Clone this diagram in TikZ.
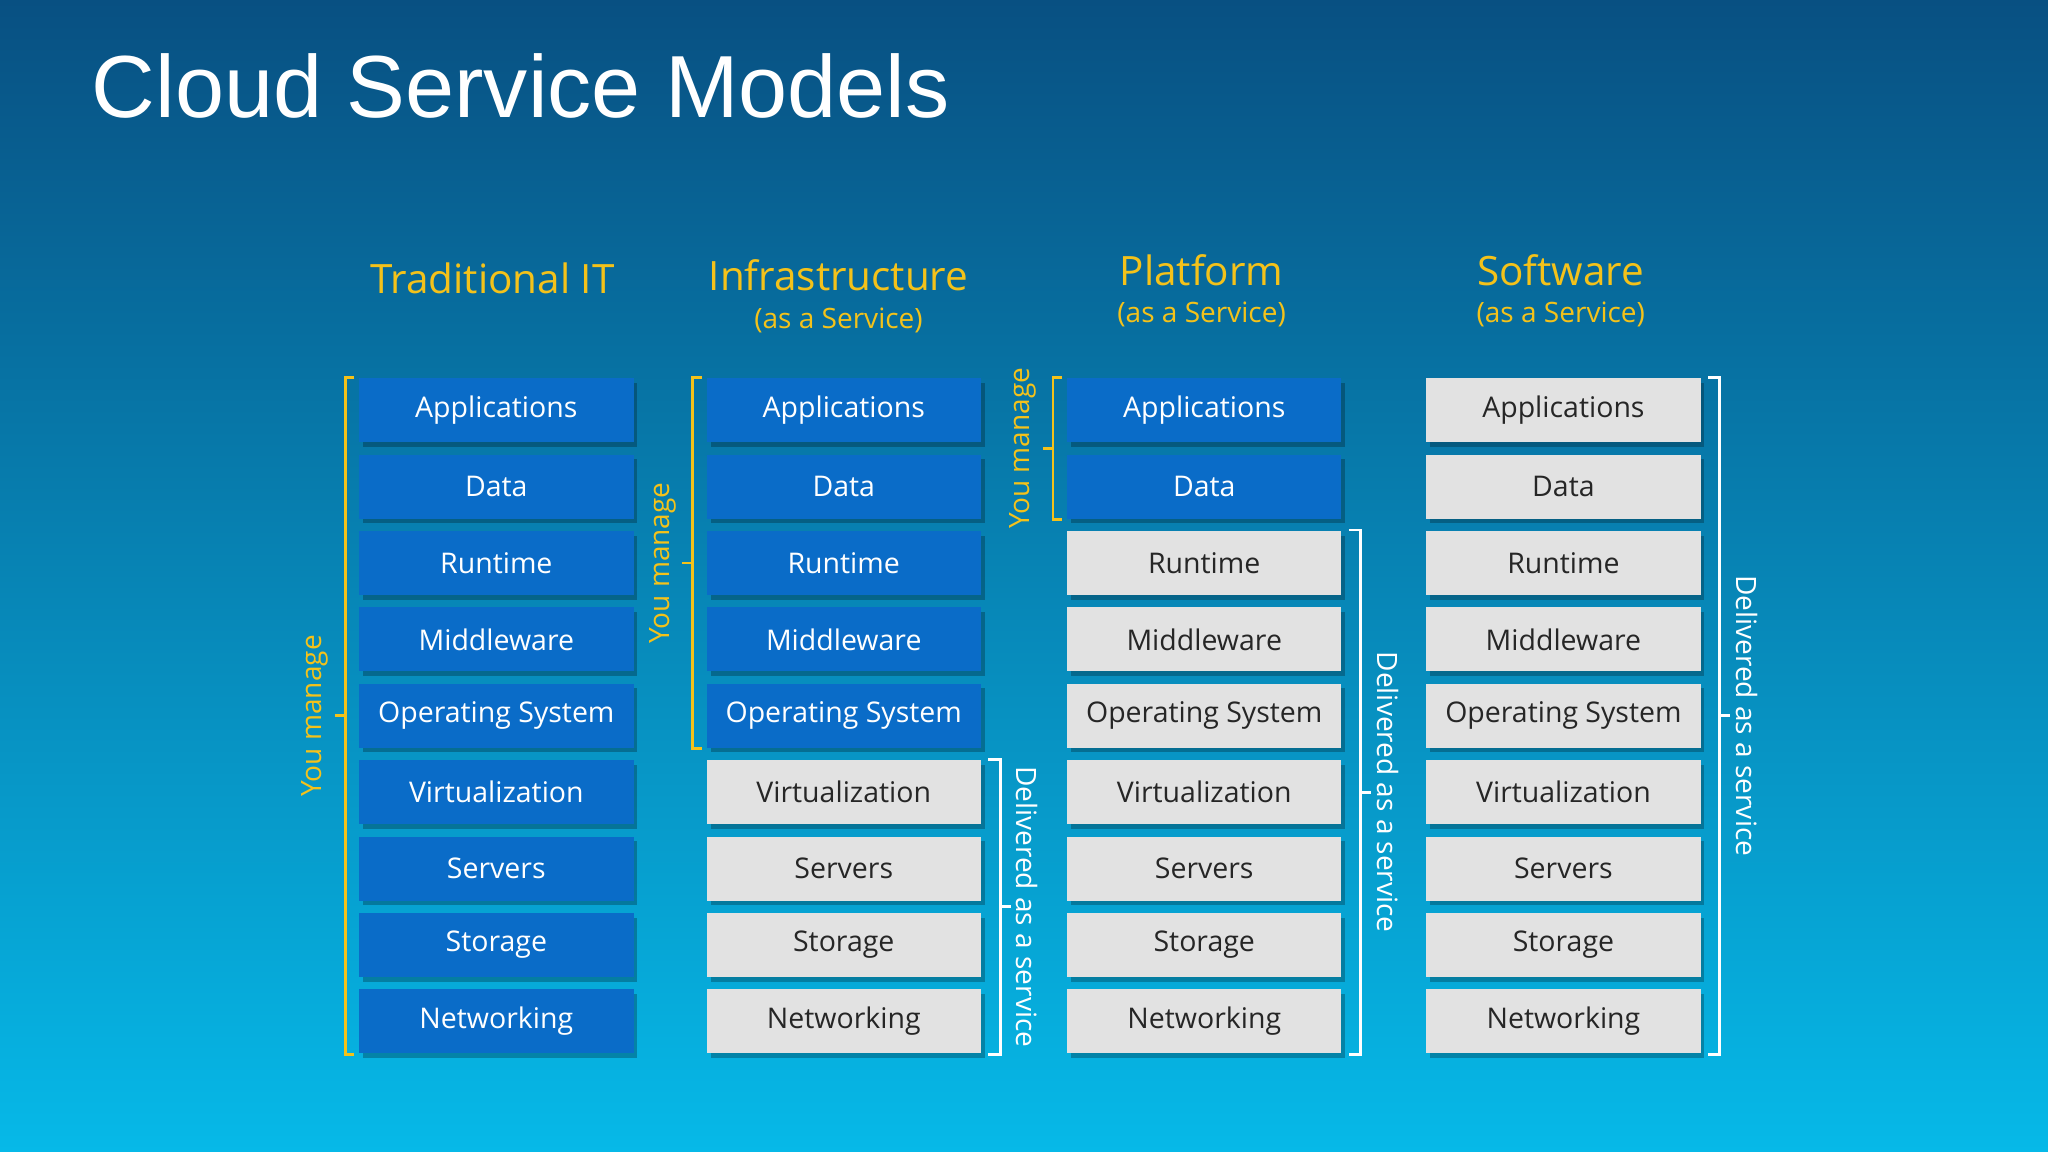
\documentclass[tikz,border=0pt]{standalone}
\usepackage{fontspec}
\setmainfont{Open Sans}
\newfontfamily\titlefont{Liberation Sans}
\usetikzlibrary{calc}
\definecolor{ownblue}{HTML}{0A6CC8}
\definecolor{svcgrey}{HTML}{E2E2E2}
\definecolor{hdryel}{HTML}{F4C21A}
\tikzset{
  box/.style={minimum width=2.1cm,minimum height=0.49cm,inner sep=0pt,font=\fontsize{6.2}{7}\selectfont},
  own/.style={box,fill=ownblue,text=white},
  svc/.style={box,fill=svcgrey,text=black!85},
  brk/.style={line width=0.6pt},
  hdr/.style={text=hdryel,align=center}
}
\begin{document}
\begin{tikzpicture}[x=0.01cm,y=-0.01cm]
  \shade[top color={rgb,255:red,8;green,80;blue,130},bottom color={rgb,255:red,6;green,185;blue,232}]
    (0,0) rectangle (1568,882);
  \node[text=white,anchor=west,font=\titlefont\fontsize{19.2}{22}\selectfont] (title) at (58,66) {Cloud Service Models};

  % column headers
  \node[hdr,font=\fontsize{8.8}{10}\selectfont] (hT) at (377,213) {Traditional IT};
  \node[hdr,font=\fontsize{8.8}{10}\selectfont] (hI) at (642,211) {Infrastructure};
  \node[hdr,font=\fontsize{6.1}{7}\selectfont] at (642,245) {(as a Service)};
  \node[hdr,font=\fontsize{8.8}{10}\selectfont] (hP) at (920,207) {Platform};
  \node[hdr,font=\fontsize{6.1}{7}\selectfont] at (920,241) {(as a Service)};
  \node[hdr,font=\fontsize{8.8}{10}\selectfont] (hS) at (1195,207) {Software};
  \node[hdr,font=\fontsize{6.1}{7}\selectfont] at (1195,241) {(as a Service)};

  % stacks
  \foreach \c/\x/\nb in {t/380/9, i/646/5, p/922/2, s/1197/0} {
    \foreach \lab [count=\r] in {Applications,Data,Runtime,Middleware,Operating System,Virtualization,Servers,Storage,Networking} {
      \ifnum\r>\nb \def\sty{svc}\else\def\sty{own}\fi
      \fill[black,opacity=0.25] (\x-102,{314+58.5*(\r-1)-21}) rectangle (\x+108,{314+58.5*(\r-1)+28});
      \node[\sty] (\c\r) at (\x,{314+58.5*(\r-1)}) {\lab};
    }
  }

  % you manage
  \draw[brk,hdryel] ($(t1.north west)+(-3,0)$) -- ++(-7,0) |- ($(t9.south west)+(-3,0)$);
  \draw[brk,hdryel] ($(t1.north west)!0.5!(t9.south west)+(-10,0)$) -- ++(-8,0)
    node[rotate=90,anchor=south,inner sep=1pt,font=\fontsize{6.1}{7}\selectfont] {You manage};
  \draw[brk,hdryel] ($(i1.north west)+(-3,0)$) -- ++(-7,0) |- ($(i5.south west)+(-3,0)$);
  \draw[brk,hdryel] ($(i1.north west)!0.5!(i5.south west)+(-10,0)$) -- ++(-8,0)
    node[rotate=90,anchor=south,inner sep=1pt,font=\fontsize{6.1}{7}\selectfont] {You manage};
  \draw[brk,hdryel] ($(p1.north west)+(-3,0)$) -- ++(-7,0) |- ($(p2.south west)+(-3,0)$);
  \draw[brk,hdryel] ($(p1.north west)!0.5!(p2.south west)+(-10,0)$) -- ++(-8,0)
    node[rotate=90,anchor=south,inner sep=1pt,font=\fontsize{6.1}{7}\selectfont] {You manage};

  % delivered as a service
  \draw[brk,white] ($(i6.north east)+(5,0)$) -- ++(9,0) |- ($(i9.south east)+(5,0)$);
  \draw[brk,white] ($(i6.north east)!0.5!(i9.south east)+(14,0)$) -- ++(8,0)
    node[rotate=-90,anchor=south,inner sep=1pt,text=white,font=\fontsize{6.1}{7}\selectfont] {Delivered as a service};
  \draw[brk,white] ($(p3.north east)+(5,0)$) -- ++(9,0) |- ($(p9.south east)+(5,0)$);
  \draw[brk,white] ($(p3.north east)!0.5!(p9.south east)+(14,0)$) -- ++(8,0)
    node[rotate=-90,anchor=south,inner sep=1pt,text=white,font=\fontsize{6.1}{7}\selectfont] {Delivered as a service};
  \draw[brk,white] ($(s1.north east)+(5,0)$) -- ++(9,0) |- ($(s9.south east)+(5,0)$);
  \draw[brk,white] ($(s1.north east)!0.5!(s9.south east)+(14,0)$) -- ++(8,0)
    node[rotate=-90,anchor=south,inner sep=1pt,text=white,font=\fontsize{6.1}{7}\selectfont] {Delivered as a service};
\end{tikzpicture}
\end{document}
